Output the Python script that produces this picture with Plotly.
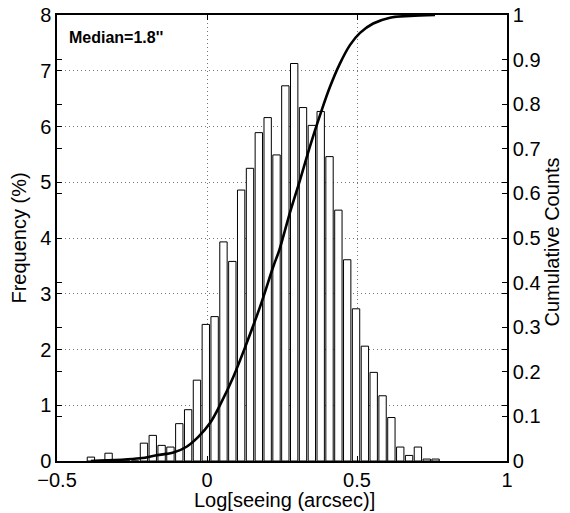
import plotly.graph_objects as go

# Histogram bins (centers) and frequencies (%)
bin_start = -0.387
bin_step = 0.02946
freq = [0.07, 0.0, 0.14, 0.0, 0.0, 0.0, 0.32, 0.46, 0.28, 0.25,
        0.67, 0.92, 1.45, 2.45, 2.59, 3.93, 3.58, 4.86, 5.25, 5.89,
        6.16, 5.49, 6.73, 7.13, 6.34, 6.02, 6.27, 5.46, 4.50, 3.61,
        2.73, 2.06, 1.59, 1.17, 0.78, 0.25, 0.10, 0.25, 0.035, 0.035]
bin_centers = [round(bin_start + i * bin_step, 4) for i in range(len(freq))]

# Cumulative curve
cum_x = [-0.387, -0.223, -0.168, -0.112, -0.068, -0.029, 0.01, 0.049, 0.088,
         0.132, 0.177, 0.221, 0.241, 0.277, 0.31, 0.343, 0.377, 0.41, 0.443,
         0.477, 0.51, 0.554, 0.61, 0.677, 0.76]
cum_y = [0.0, 0.006, 0.013, 0.019, 0.032, 0.054, 0.085, 0.133, 0.189,
         0.264, 0.346, 0.436, 0.473, 0.558, 0.63, 0.705, 0.776, 0.839, 0.891,
         0.933, 0.960, 0.981, 0.994, 0.998, 1.0]

x_ticks = [-0.5, 0, 0.5, 1]
x_ticktext = ["\u22120.5", "0", "0.5", "1"]

font = "Liberation Sans, Arial, Helvetica, sans-serif"
BLACK = "rgb(0,0,0)"

fig = go.Figure()
fig.add_trace(go.Bar(x=bin_centers, y=freq, width=0.0245,
                     marker=dict(color="white", line=dict(color=BLACK, width=1)),
                     yaxis="y", showlegend=False, hoverinfo="skip"))
fig.add_trace(go.Scatter(x=cum_x, y=cum_y, mode="lines",
                         line=dict(color=BLACK, width=2.6, shape="spline"),
                         yaxis="y2", showlegend=False, hoverinfo="skip"))

axis_common = dict(showline=True, linecolor=BLACK, linewidth=1.5, ticks="inside", ticklen=5,
                   tickcolor=BLACK, tickfont=dict(size=20, color=BLACK, family=font),
                   zeroline=False, automargin=False, ticklabeloverflow="allow")

grid = dict(showgrid=True, gridcolor="#777777", griddash="1px,3px", gridwidth=1)

# page body has an 8px margin, so the figure is offset by 8px
fig.update_layout(
    width=562, height=505,
    margin=dict(l=49, r=63, t=7, b=52),
    plot_bgcolor="white", paper_bgcolor="white",
    font=dict(family=font, color=BLACK),
    xaxis=dict(range=[-0.5, 1], tickvals=x_ticks, ticktext=x_ticktext, mirror="ticks",
               ticklabelstandoff=0, **grid, **axis_common),
    yaxis=dict(range=[0, 8], dtick=1, mirror="ticks", ticklabelstandoff=0,
               title=dict(text="Frequency (%)", font=dict(size=20, color=BLACK, family=font), standoff=9),
               **grid, **axis_common),
    yaxis2=dict(range=[0, 1], dtick=0.1, overlaying="y", side="right", mirror="ticks",
                ticklabelstandoff=0, showgrid=False, **axis_common),
    annotations=[
        dict(text="<b>Median=1.8''</b>", xref="paper", yref="paper", x=0.022, y=0.95,
             xanchor="left", yanchor="middle", showarrow=False,
             font=dict(size=16, color=BLACK, family=font)),
        dict(text="Cumulative Counts", xref="paper", yref="paper", x=(552 - 57) / 450, y=0.49,
             xanchor="center", yanchor="middle", textangle=-90, showarrow=False,
             font=dict(size=20, color=BLACK, family=font)),
        dict(text="Log[seeing (arcsec)]", xref="paper", yref="paper", x=0.505, y=(461 - 500) / 446,
             xanchor="center", yanchor="middle", showarrow=False,
             font=dict(size=20, color=BLACK, family=font)),
    ],
)

fig.write_html("out.html")
